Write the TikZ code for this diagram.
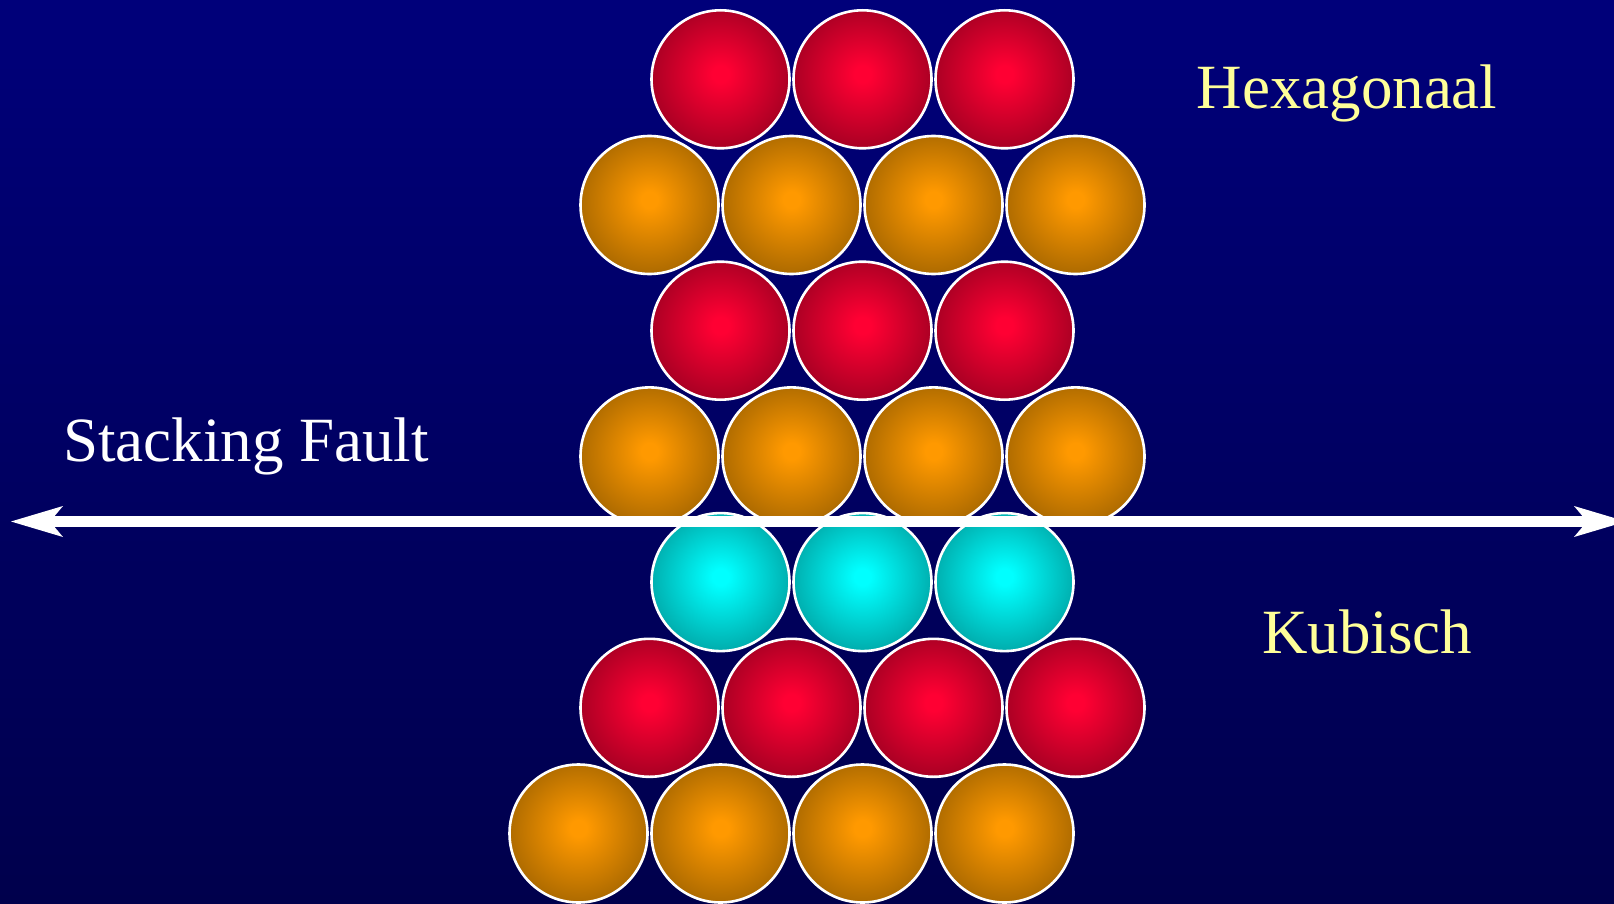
\documentclass[tikz,border=0pt]{standalone}
\usepackage{fontspec}
\setmainfont{Liberation Serif}
\usetikzlibrary{arrows.meta}
\definecolor{bgtop}{HTML}{00007A}
\definecolor{bgbot}{HTML}{00004C}
\definecolor{pale}{HTML}{FFFF99}
\definecolor{redin}{HTML}{FF0033}
\definecolor{redout}{HTML}{AC0024}
\definecolor{orangein}{HTML}{FF9900}
\definecolor{orangeout}{HTML}{B06C00}
\definecolor{cyanin}{HTML}{00FFFF}
\definecolor{cyanout}{HTML}{00B0B0}
\pgfdeclareradialshading{ballred}{\pgfpoint{0bp}{2bp}}{color(0bp)=(redin); color(3bp)=(redin); color(25bp)=(redout); color(50bp)=(redout)}
\pgfdeclareradialshading{ballorange}{\pgfpoint{0bp}{2bp}}{color(0bp)=(orangein); color(3bp)=(orangein); color(25bp)=(orangeout); color(50bp)=(orangeout)}
\pgfdeclareradialshading{ballcyan}{\pgfpoint{0bp}{2bp}}{color(0bp)=(cyanin); color(3bp)=(cyanin); color(25bp)=(cyanout); color(50bp)=(cyanout)}

\begin{document}
\begin{tikzpicture}[x=1pt,y=-1pt,
  atom/.style={circle,draw=white,line width=2.6pt,minimum size=138pt,inner sep=0pt,shade},
  word/.style={font=\fontsize{63}{70}\selectfont,anchor=base,inner sep=0pt},
  fault/.style={white,line width=11pt,
    {Stealth[length=52pt,width=31pt,inset=13pt,line width=0pt]}-{Stealth[length=52pt,width=31pt,inset=13pt,line width=0pt]}}]
\useasboundingbox (0,0) rectangle (1614,904);
\shade[top color=bgtop,bottom color=bgbot] (0,0) rectangle (1614,904);
\foreach \r/\c/\ks in {1/red/{2,4,6},2/orange/{1,3,5,7},3/red/{2,4,6},4/orange/{1,3,5,7},5/cyan/{2,4,6},6/red/{1,3,5,7},7/orange/{0,2,4,6}}{
  \foreach \k in \ks{
    \node[atom,shading=ball\c] (b\r-\k) at ({578.5+71*\k},{79.3+125.7*(\r-1)}) {};
  }
}
\coordinate (fl) at (11,521.5);
\coordinate (fr) at (1626,521.5);
\draw[fault] (fl) -- (fr);
\node[word,pale] (hex) at (1347,108.3) {Hexagonaal};
\node[word,pale] (kub) at (1367,653.3) {Kubisch};
\node[word,white] (sf) at (246,461) {Stacking Fault};
\end{tikzpicture}
\end{document}
